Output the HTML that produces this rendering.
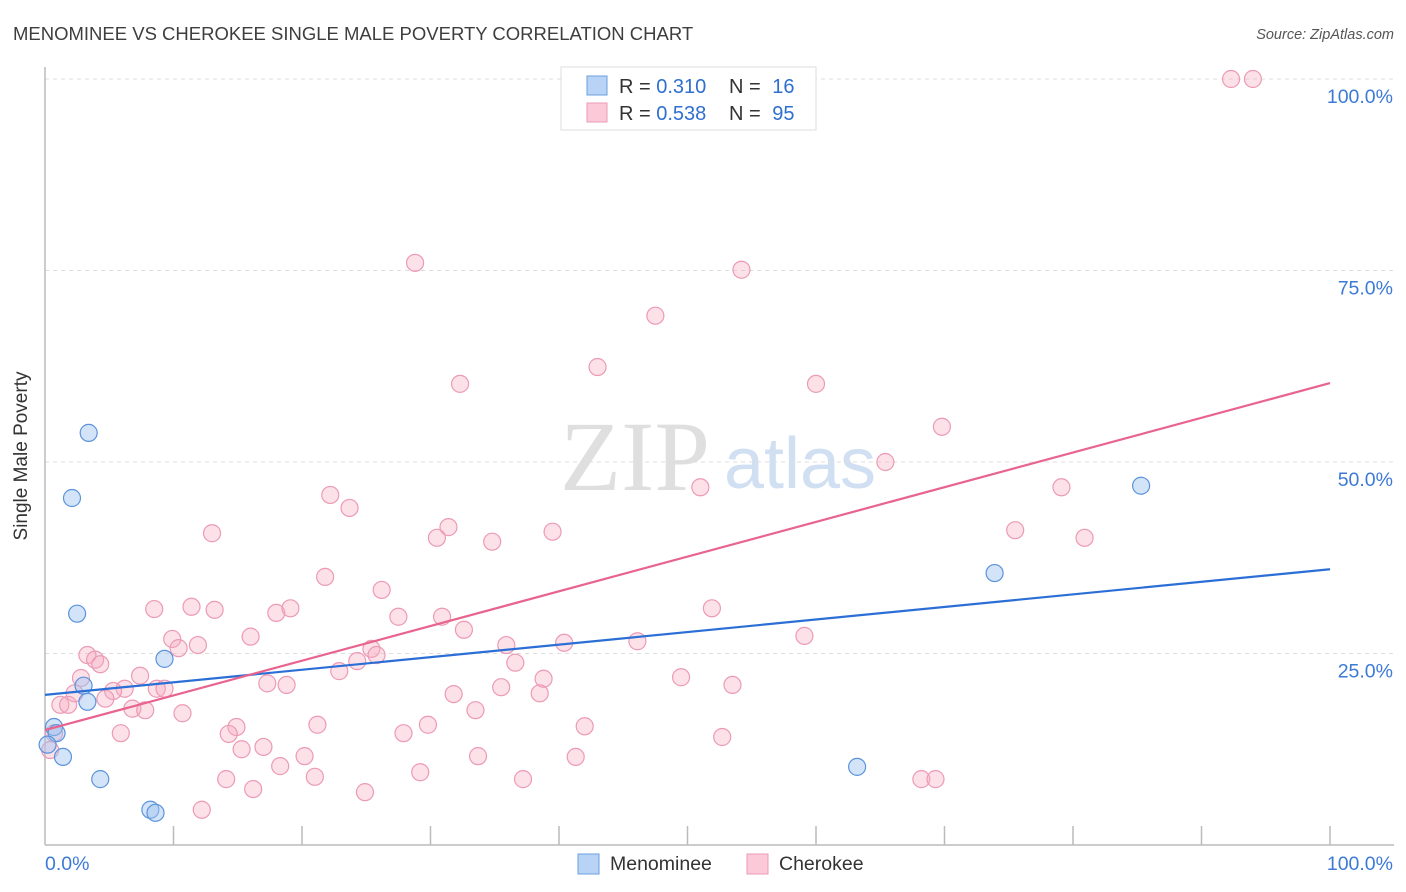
<!DOCTYPE html>
<html><head><meta charset="utf-8"><style>
body{margin:0;background:#fff;font-family:"Liberation Sans",sans-serif;}
svg{display:block}
</style></head><body>
<svg width="1406" height="892" viewBox="0 0 1406 892">
<text x="13" y="40" font-size="18.5" fill="#3e3e3e">MENOMINEE VS CHEROKEE SINGLE MALE POVERTY CORRELATION CHART</text>
<text x="1394" y="39" font-size="14.5" fill="#555" font-style="italic" text-anchor="end">Source: ZipAtlas.com</text>
<g>
<text x="635" y="490" font-size="100" font-family="Liberation Serif,serif" fill="#d8d8d8" text-anchor="middle" opacity="0.8">ZIP</text>
<text x="800" y="488" font-size="72" fill="#c5d8ef" text-anchor="middle" opacity="0.8">atlas</text>
</g>
<g id="grid"></g>
<g id="axes"></g>
<g id="marks"></g>
<g id="lines"></g>
<text x="27" y="456" font-size="19" fill="#333" text-anchor="middle" transform="rotate(-90 27 456)">Single Male Poverty</text>
<g>
<rect x="561" y="67" width="255" height="63" fill="#fff" stroke="#ddd"/>
<rect x="587" y="76" width="20" height="19" fill="#b8d3f5" stroke="#6a9fe0"/>
<rect x="587" y="103" width="20" height="19" fill="#fbc9d8" stroke="#ec9ab5"/>
<text x="619" y="93" font-size="20" fill="#333">R = <tspan fill="#2f6fcf">0.310</tspan></text>
<text x="729" y="93" font-size="20" fill="#333">N = <tspan fill="#2f6fcf" dx="6">16</tspan></text>
<text x="619" y="120" font-size="20" fill="#333">R = <tspan fill="#2f6fcf">0.538</tspan></text>
<text x="729" y="120" font-size="20" fill="#333">N = <tspan fill="#2f6fcf" dx="6">95</tspan></text>
</g>
<g>
<rect x="578" y="854" width="21" height="20" fill="#b8d3f5" stroke="#6a9fe0"/>
<text x="610" y="870" font-size="19.5" fill="#333">Menominee</text>
<rect x="747" y="854" width="21" height="20" fill="#fbc9d8" stroke="#ec9ab5"/>
<text x="779" y="870" font-size="19.5" fill="#333">Cherokee</text>
</g>
</svg>
<script>
const yTicks=[25,50,75,100];
const yTickLabels=["25.0%","50.0%","75.0%","100.0%"];
const xTickLabels=["0.0%","100.0%"];
const blueX=[3.4,2.1,2.5,9.3,3.0,3.3,0.7,0.9,0.2,1.4,4.3,8.2,8.6,73.9,85.3,63.2];
const blueY=[53.8,45.3,30.2,24.3,20.8,18.7,15.4,14.6,13.1,11.5,8.6,4.6,4.2,35.5,46.9,10.2];
const pinkX=[92.3,94.0,28.8,54.2,47.5,43.0,32.3,60.0,69.8,65.4,51.0,79.1,22.2,23.7,75.5,31.4,30.5,39.5,34.8,80.9,13.0,21.8,26.2,8.5,11.4,13.2,18.0,19.1,27.5,30.9,51.9,32.6,16.0,59.1,9.9,11.9,10.4,35.9,40.4,46.1,25.4,25.8,24.3,3.3,3.9,4.3,36.6,22.9,7.4,2.8,38.8,49.5,17.3,18.8,53.5,8.7,9.3,6.2,5.3,2.3,31.8,35.5,38.5,4.7,1.2,1.8,6.8,7.8,33.5,10.7,21.2,29.8,42.0,14.9,5.9,14.3,27.9,52.7,0.7,17.0,15.3,20.2,33.7,41.3,0.4,18.3,29.2,21.0,14.1,37.2,68.2,69.3,16.2,24.9,12.2];
const pinkY=[100,100,76.0,75.1,69.1,62.4,60.2,60.2,54.6,50.0,46.7,46.7,45.7,44.0,41.1,41.5,40.1,40.9,39.6,40.1,40.7,35.0,33.3,30.8,31.1,30.7,30.3,30.9,29.8,29.8,30.9,28.1,27.2,27.3,26.9,26.1,25.7,26.1,26.4,26.6,25.6,24.8,24.0,24.8,24.2,23.6,23.8,22.7,22.1,21.8,21.7,21.9,21.1,20.9,20.9,20.4,20.4,20.4,20.1,19.8,19.7,20.6,19.8,19.1,18.3,18.3,17.8,17.6,17.6,17.2,15.7,15.7,15.5,15.4,14.6,14.5,14.6,14.1,14.6,12.8,12.5,11.6,11.6,11.5,12.4,10.3,9.5,8.9,8.6,8.6,8.6,8.6,7.3,6.9,4.6];
const blueTrend=[19.6,36.0];
const pinkTrend=[15.0,60.3];
const NS="http://www.w3.org/2000/svg";
const X0=45,X1=1330,Y0=845,Y1=79;
function sx(v){return X0+(X1-X0)*v/100;}
function sy(v){return Y0-(Y0-Y1)*v/100;}
function mk(tag,attrs,parent){const e=document.createElementNS(NS,tag);for(const k in attrs)e.setAttribute(k,attrs[k]);parent.appendChild(e);return e;}
const grid=document.getElementById('grid'),axes=document.getElementById('axes'),marks=document.getElementById('marks'),lines=document.getElementById('lines');
yTicks.forEach((t,i)=>{
  const g=mk('line',{x1:X0,x2:1394,y1:sy(t),y2:sy(t),stroke:'#ddd','stroke-dasharray':'4 4'},grid);
  
  
  const l=mk('text',{x:1393,y:sy(t)+24,'font-size':19.5,fill:'#3d7ad6','text-anchor':'end'},axes);
  l.textContent=yTickLabels[i];
  
  
});
const ya=mk('line',{x1:X0,x2:X0,y1:67,y2:Y0,stroke:'#bbb','stroke-width':1.5},axes);


const xa=mk('line',{x1:X0,x2:1394,y1:Y0,y2:Y0,stroke:'#bbb','stroke-width':1.5},axes);


for(let i=1;i<=10;i++){
  const t=mk('line',{x1:sx(i*10),x2:sx(i*10),y1:Y0,y2:Y0-19,stroke:'#bbb','stroke-width':1.5},axes);
  
  
}
const xl0=mk('text',{x:45,y:870,'font-size':19.5,fill:'#3d7ad6'},axes);xl0.textContent=xTickLabels[0];


const xl1=mk('text',{x:1393,y:870,'font-size':19.5,fill:'#3d7ad6','text-anchor':'end'},axes);xl1.textContent=xTickLabels[1];


pinkX.forEach((v,i)=>{
  const c=mk('circle',{cx:sx(v),cy:sy(pinkY[i]),r:8.5,fill:'rgba(246,168,192,0.35)',stroke:'#ec9ab5','stroke-width':1.2},marks);
  
  
});
blueX.forEach((v,i)=>{
  const c=mk('circle',{cx:sx(v),cy:sy(blueY[i]),r:8.5,fill:'rgba(160,195,240,0.45)',stroke:'#5b93dc','stroke-width':1.2},marks);
  
  
});
const bl=mk('line',{x1:sx(0),y1:sy(blueTrend[0]),x2:sx(100),y2:sy(blueTrend[1]),stroke:'#2b6fd6','stroke-width':2.2},lines);


const pl=mk('line',{x1:sx(0),y1:sy(pinkTrend[0]),x2:sx(100),y2:sy(pinkTrend[1]),stroke:'#e8648e','stroke-width':2.2},lines);


</script>
</body></html>
